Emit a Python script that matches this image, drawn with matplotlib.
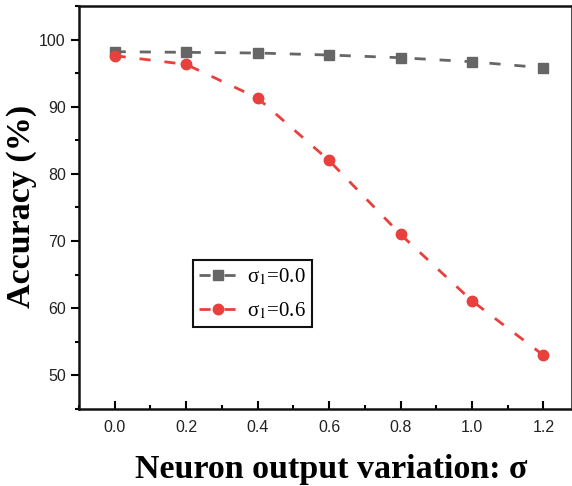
#!/usr/bin/env python3
"""Accuracy vs neuron output variation, two sigma_1 settings."""
import matplotlib
matplotlib.use("Agg")
import matplotlib.pyplot as plt
from matplotlib.ticker import MultipleLocator

sigma = [0.0, 0.2, 0.4, 0.6, 0.8, 1.0, 1.2]
acc_s0 = [98.2, 98.1, 98.0, 97.7, 97.3, 96.7, 95.8]
acc_s06 = [97.6, 96.3, 91.3, 82.0, 71.0, 61.1, 53.0]
labels = ["σ$_1$=0.0", "σ$_1$=0.6"]

plt.rcParams["mathtext.fontset"] = "stix"

W, H = 572, 486
L, R, T, B = 79, 572, 6, 409
fig = plt.figure(figsize=(W / 100, H / 100), dpi=100)
ax = fig.add_axes([L / W, 1 - B / H, (R - L) / W, (B - T) / H])
aw, ah = R - L, B - T

dash = (0, (4, 5))
ax.plot(sigma, acc_s0, ls=dash, lw=2, color="#666666",
        marker="s", ms=7, label=labels[0])
ax.plot(sigma, acc_s06, ls=dash, lw=2, color="#e8403c",
        marker="o", ms=7.5, label=labels[1])

ax.set_xlim(-0.1, 1.28)
ax.set_ylim(45, 105)
ax.xaxis.set_minor_locator(MultipleLocator(0.1))
ax.yaxis.set_minor_locator(MultipleLocator(5))
ax.set_xticks(sigma)
ax.set_xticklabels([f"{v:.1f}" for v in sigma])
ax.set_yticks([50, 60, 70, 80, 90, 100])

ax.tick_params(axis="x", which="both", direction="in", width=1.5, pad=8)
ax.tick_params(axis="x", which="major", length=6)
ax.tick_params(axis="x", which="minor", length=3)
ax.tick_params(axis="y", which="both", direction="out", width=1.5)
ax.tick_params(axis="y", which="major", length=6)
ax.tick_params(axis="y", which="minor", length=3)
for lab in ax.get_xticklabels() + ax.get_yticklabels():
    lab.set_fontfamily("Liberation Sans")
    lab.set_fontsize(11.5)
    lab.set_color("#222222")

for side in ("left", "bottom", "top", "right"):
    ax.spines[side].set_linewidth(1.8)
    ax.spines[side].set_color("#111111")

ax.set_xlabel("Neuron output variation: σ", family="Liberation Serif",
              weight="bold", fontsize=24.5, va="baseline")
ax.xaxis.set_label_coords((331 - L) / aw, (B - 478) / ah)
ax.set_ylabel("Accuracy (%)", family="Liberation Serif",
              weight="bold", fontsize=24.5, va="baseline")
ax.yaxis.set_label_coords((30 - L) / aw, (B - 206) / ah)

leg = ax.legend(loc="upper left",
                bbox_to_anchor=((193 - L) / aw, (B - 260) / ah),
                prop={"family": "Liberation Serif", "size": 15},
                fancybox=False, framealpha=1, edgecolor="#111111",
                handlelength=1.8, handletextpad=0.5, borderaxespad=0,
                borderpad=0.3, labelspacing=0.65)
leg.get_frame().set_linewidth(1.5)

fig.savefig("out.png", dpi=100)
